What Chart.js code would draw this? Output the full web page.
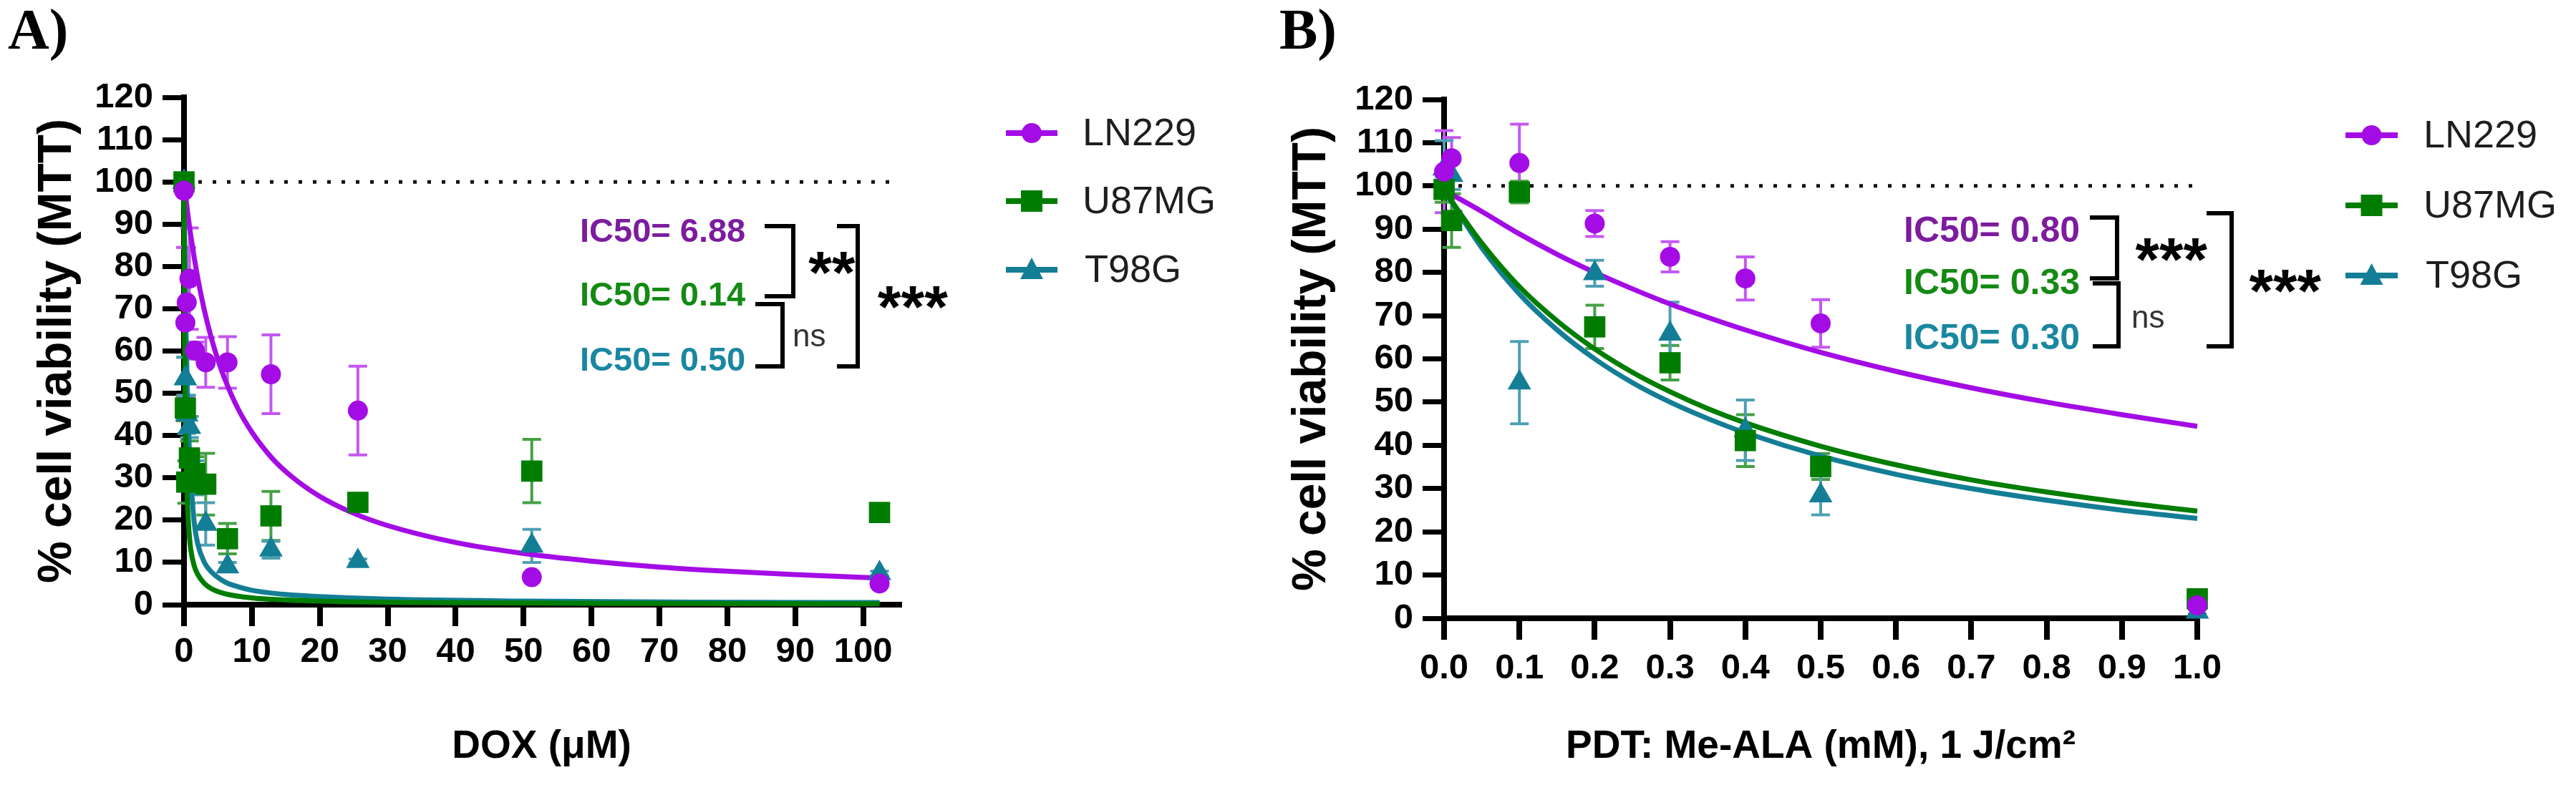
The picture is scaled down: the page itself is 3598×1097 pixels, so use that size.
<!DOCTYPE html>
<html><head><meta charset="utf-8">
<script src="https://cdn.jsdelivr.net/npm/chart.js@4.4.1/dist/chart.umd.min.js"></script>
<style>
html,body{margin:0;padding:0;background:#fff;}
body{width:3598px;height:1097px;position:relative;overflow:hidden;}
canvas{position:absolute;left:0;top:0;}
</style></head><body>
<canvas id="cA" width="3598" height="1097"></canvas>
<canvas id="cB" width="3598" height="1097"></canvas>
<script>
// ---------------- DATA ----------------
const seriesNames = ['LN229', 'U87MG', 'T98G'];
const controlLevel = 100;

// Panel A: DOX (µM)
const A_conc = [0, 0.2, 0.4, 0.8, 1.6, 3.2, 6.4, 12.8, 25.6, 51.2, 102.4];
const A_LN229 = [97.9, 66.7, 71.5, 77.1, 60.1, 57.3, 57.3, 54.5, 45.9, 6.5, 5.0];
const A_LN229_sd = [0, 17.8, 13, 12, 2, 5.9, 6.1, 9.3, 10.5, 0, 0];
const A_U87MG = [100, 46.5, 29.0, 34.7, 31.0, 28.5, 15.6, 21.0, 24.2, 31.6, 21.8];
const A_U87MG_sd = [0, 3, 5, 4, 4, 7.3, 3.6, 5.8, 1, 7.5, 2];
const A_T98G = [100, 53.5, 45.0, 42.0, 30.0, 19.1, 9.0, 13.0, 10.3, 13.9, 7.4];
const A_T98G_sd = [0, 5, 4.5, 2.5, 4, 5, 1, 2, 0.5, 3.9, 0.5];

const A_fit_LN229_x = [0, 0.2, 0.5, 1, 2, 3, 4, 5, 6, 8, 10, 13, 16, 20, 25, 30, 40, 50, 60, 70, 80, 90, 102.4];
const A_fit_LN229_y = [99, 97.2, 93.2, 87.3, 77.5, 69.6, 63.2, 57.9, 53.4, 46.2, 40.8, 34.6, 30.1, 25.6, 21.6, 18.7, 14.7, 12.1, 10.3, 8.9, 7.9, 7.1, 6.3];
const A_fit_U87MG_x = [0, 0.05, 0.1, 0.2, 0.3, 0.5, 0.75, 1, 1.5, 2, 3, 4, 6, 10, 20, 40, 70, 102.4];
const A_fit_U87MG_y = [100, 76, 60, 44, 35, 24, 17, 13, 9.2, 7.2, 5, 3.8, 2.6, 1.6, 0.85, 0.45, 0.28, 0.2];
const A_fit_T98G_x = [0, 0.05, 0.1, 0.2, 0.3, 0.5, 0.75, 1, 1.5, 2, 3, 4, 6, 8, 10, 15, 20, 30, 50, 75, 102.4];
const A_fit_T98G_y = [100, 92, 85, 74, 64, 50, 38, 30, 19.5, 14.5, 10, 7.8, 5.4, 4.2, 3.4, 2.4, 1.9, 1.3, 0.85, 0.6, 0.5];

const A_xTicks = {min: 0, max: 105.3, step: 10};
const A_ic50 = ['IC50= 6.88', 'IC50= 0.14', 'IC50= 0.50'];
const A_sig = ['**', 'ns', '***'];

// Panel B: PDT Me-ALA (mM), 1 J/cm2
const B_conc = [0, 0.01, 0.1, 0.2, 0.3, 0.4, 0.5, 1.0];
const B_LN229 = [103.3, 106.4, 105.3, 91.3, 83.6, 78.6, 68.2, 3.0];
const B_LN229_sd = [9.5, 4.8, 9, 3, 3.5, 5, 5.5, 0.5];
const B_U87MG = [99.2, 92.0, 98.6, 67.4, 59.1, 41.1, 35.1, 4.5];
const B_U87MG_sd = [3, 6.2, 2.5, 5, 4, 6, 3, 0.5];
const B_T98G = [104, 102.5, 54.5, 79.8, 65.8, 43.5, 28.4, 1.5];
const B_T98G_sd = [6.5, 3.3, 9.5, 3, 7.3, 7, 4.5, 0.5];

const B_fit_x = [0, 0.05, 0.1, 0.15, 0.2, 0.25, 0.3, 0.35, 0.4, 0.5, 0.6, 0.7, 0.8, 0.9, 1.0];
const B_fit_LN229_y = [99, 94.1, 88.9, 84.2, 80, 76.2, 72.7, 69.6, 66.7, 61.5, 57.1, 53.3, 50, 47.1, 44.4];
const B_fit_U87MG_y = [99, 86.8, 76.7, 68.8, 62.3, 56.9, 52.4, 48.5, 45.2, 39.8, 35.5, 32, 29.2, 26.8, 24.8];
const B_fit_T98G_y = [99, 85.7, 75, 66.7, 60, 54.5, 50, 46.2, 42.9, 37.5, 33.3, 30, 27.3, 25, 23.1];

const B_xTicks = {min: 0, max: 1.0, step: 0.1};
const B_ic50 = ['IC50= 0.80', 'IC50= 0.33', 'IC50= 0.30'];
const B_sig = ['***', 'ns', '***'];

const yTicks = {min: 0, max: 120, step: 10};

// ---------------- STYLE ----------------
const FONT = "'Liberation Sans', Arial, Helvetica, sans-serif";
const markerColors = ['#A40CE6', '#007D00', '#137E96'];
const errColors = ['#C457F2', '#45A045', '#4E9FB4'];
const textColors = ['#7C1C9E', '#148A14', '#1A87A1'];
const pStyles = ['circle', 'rect', 'triangle'];
const pRadius = [14, 21, 19];

function pts(xs, ys) { return xs.map((x, i) => ({x: x, y: ys[i]})); }

function buildDatasets(conc, vals, sds, fits, xmax) {
  const ds = [];
  vals.forEach((v, i) => {
    ds.push({
      type: 'scatter', label: seriesNames[i], data: pts(conc, v), errorBars: sds[i], errorColor: errColors[i],
      pointStyle: pStyles[i], pointRadius: pRadius[i], pointHoverRadius: pRadius[i],
      pointBackgroundColor: markerColors[i], pointBorderWidth: 0, showLine: false, order: i, clip: false
    });
  });
  const curveOrder = [6, 5, 7];
  fits.forEach((f, i) => {
    ds.push({
      type: 'scatter', label: seriesNames[i] + ' fit', data: pts(f[0], f[1]), showLine: true,
      borderColor: markerColors[i], borderWidth: 7, pointRadius: 0, cubicInterpolationMode: 'monotone',
      order: curveOrder[i], clip: false
    });
  });
  ds.push({
    type: 'scatter', label: 'control', data: [{x: 0, y: controlLevel}, {x: xmax, y: controlLevel}], showLine: true,
    borderColor: '#111', borderWidth: 5, borderDash: [5, 15], pointRadius: 0, order: 10, clip: false
  });
  return ds;
}

const errorBarPlugin = {
  id: 'errbars',
  beforeDatasetsDraw(chart) {
    const ctx = chart.ctx, xs = chart.scales.x, ys = chart.scales.y;
    chart.data.datasets.forEach(ds => {
      if (!ds.errorBars) return;
      ctx.save();
      ctx.strokeStyle = ds.errorColor; ctx.lineWidth = 4; ctx.lineCap = 'butt';
      ds.data.forEach((p, j) => {
        const sd = ds.errorBars[j]; if (!sd) return;
        const px = xs.getPixelForValue(p.x);
        const yt = ys.getPixelForValue(p.y + sd), yb = ys.getPixelForValue(p.y - sd);
        ctx.beginPath();
        ctx.moveTo(px, yt); ctx.lineTo(px, yb);
        ctx.moveTo(px - 13, yt); ctx.lineTo(px + 13, yt);
        ctx.moveTo(px - 13, yb); ctx.lineTo(px + 13, yb);
        ctx.stroke();
      });
      ctx.restore();
    });
  }
};

function textBox(ctx, txt, font, color, x, cy, align) {
  ctx.save();
  ctx.font = font; ctx.fillStyle = color; ctx.textAlign = 'left'; ctx.textBaseline = 'alphabetic';
  const m = ctx.measureText(txt);
  const w = m.actualBoundingBoxRight + m.actualBoundingBoxLeft;
  let left = x;
  if (align === 'center') left = x - w / 2;
  const base = cy + (m.actualBoundingBoxAscent - m.actualBoundingBoxDescent) / 2;
  ctx.fillText(txt, left + m.actualBoundingBoxLeft, base);
  ctx.restore();
}

function bracket(ctx, x1, yTop, x2, yBot) {
  ctx.save();
  ctx.strokeStyle = '#000'; ctx.lineWidth = 6; ctx.lineJoin = 'miter'; ctx.lineCap = 'butt';
  ctx.beginPath(); ctx.moveTo(x1, yTop); ctx.lineTo(x2, yTop); ctx.lineTo(x2, yBot); ctx.lineTo(x1, yBot); ctx.stroke();
  ctx.restore();
}

function legend(ctx, lx1, lx2, ys, tx) {
  const cx = (lx1 + lx2) / 2;
  seriesNames.forEach((name, i) => {
    const y = ys[i];
    ctx.save();
    ctx.strokeStyle = markerColors[i]; ctx.lineWidth = 8;
    ctx.beginPath(); ctx.moveTo(lx1, y); ctx.lineTo(lx2, y); ctx.stroke();
    ctx.fillStyle = markerColors[i];
    ctx.beginPath();
    if (i === 0) ctx.arc(cx, y, 14, 0, Math.PI * 2);
    else if (i === 1) ctx.rect(cx - 15, y - 15, 30, 30);
    else { ctx.moveTo(cx, y - 17); ctx.lineTo(cx + 16, y + 13); ctx.lineTo(cx - 16, y + 13); ctx.closePath(); }
    ctx.fill();
    ctx.restore();
    textBox(ctx, name, '54px ' + FONT, '#1e1e1e', tx, y - 2, 'left');
  });
}

function scalesCfg(xt, xTitle, yW, xH, xTickPad, fmt) {
  return {
    x: {
      type: 'linear', min: xt.min, max: xt.max,
      ticks: {stepSize: xt.step, includeBounds: false, color: '#000', padding: xTickPad,
              font: {family: FONT, weight: 'bold', size: 49}, callback: fmt, maxRotation: 0, autoSkip: false},
      grid: {drawOnChartArea: false, drawTicks: true, tickLength: 30, lineWidth: 8, tickWidth: 8, color: '#000', tickColor: '#000'},
      border: {display: true, width: 8, color: '#000'},
      title: {display: true, text: xTitle, color: '#000', font: {family: FONT, weight: 'bold', size: 55}, padding: 0},
      afterFit: s => { s.height = xH; }
    },
    y: {
      type: 'linear', min: yTicks.min, max: yTicks.max,
      ticks: {stepSize: yTicks.step, color: '#000', padding: 13, autoSkip: false, font: {family: FONT, weight: 'bold', size: 49}},
      grid: {drawOnChartArea: false, drawTicks: true, tickLength: 30, lineWidth: 7, tickWidth: 7, color: '#000', tickColor: '#000'},
      border: {display: true, width: 8, color: '#000'},
      title: {display: true, text: '% cell viability (MTT)', color: '#000', font: {family: FONT, weight: 'bold', size: 66}, padding: 0},
      afterFit: s => { s.width = yW; }
    }
  };
}

const commonOpts = {responsive: false, animation: false, devicePixelRatio: 1, events: []};

// ---------------- PANEL A ----------------
const annotA = {
  id: 'annotA',
  afterDraw(chart) {
    const ctx = chart.ctx;
    textBox(ctx, 'A)', 'bold 80px "Liberation Serif", "Times New Roman", serif', '#000', 11, 49, 'left');
    const ys = [322, 411, 502];
    A_ic50.forEach((t, i) => textBox(ctx, t, 'bold 47px ' + FONT, textColors[i], 813, ys[i], 'left'));
    bracket(ctx, 1068, 316, 1108, 414);
    bracket(ctx, 1055, 425, 1093, 512);
    bracket(ctx, 1169, 316, 1198, 512);
    textBox(ctx, A_sig[0], 'bold 84px ' + FONT, '#000', 1162, 368, 'center');
    textBox(ctx, A_sig[1], '44px ' + FONT, '#333', 1109, 472, 'left');
    textBox(ctx, A_sig[2], 'bold 84px ' + FONT, '#000', 1275, 416, 'center');
    legend(ctx, 1405, 1477, [186, 281, 377], 1516);
  }
};

new Chart(document.getElementById('cA'), {
  type: 'scatter',
  data: {datasets: buildDatasets(A_conc, [A_LN229, A_U87MG, A_T98G], [A_LN229_sd, A_U87MG_sd, A_T98G_sd],
    [[A_fit_LN229_x, A_fit_LN229_y], [A_fit_U87MG_x, A_fit_U87MG_y], [A_fit_T98G_x, A_fit_T98G_y]], A_xTicks.max)},
  options: Object.assign({}, commonOpts, {
    layout: {padding: {left: 41, top: 136, right: 3598 - 1256, bottom: 20}},
    plugins: {legend: {display: false}, tooltip: {enabled: false}},
    scales: scalesCfg(A_xTicks, 'DOX (\u03BCM)', 216, 232, 7, v => String(v))
  }),
  plugins: [errorBarPlugin, annotA]
});

// ---------------- PANEL B ----------------
const annotB = {
  id: 'annotB',
  afterDraw(chart) {
    const ctx = chart.ctx;
    textBox(ctx, 'B)', 'bold 80px "Liberation Serif", "Times New Roman", serif', '#000', 1788, 49, 'left');
    const ys = [320, 393, 470];
    B_ic50.forEach((t, i) => textBox(ctx, t, 'bold 50px ' + FONT, textColors[i], 2662, ys[i], 'left'));
    bracket(ctx, 2919, 304, 2957, 389);
    bracket(ctx, 2923, 396, 2959, 484);
    bracket(ctx, 3082, 298, 3117, 484);
    textBox(ctx, B_sig[0], 'bold 86px ' + FONT, '#000', 3033, 349, 'center');
    textBox(ctx, B_sig[1], '44px ' + FONT, '#333', 2979, 446, 'left');
    textBox(ctx, B_sig[2], 'bold 86px ' + FONT, '#000', 3192, 393, 'center');
    legend(ctx, 3276, 3349, [189, 287, 385], 3389);
  }
};

new Chart(document.getElementById('cB'), {
  type: 'scatter',
  data: {datasets: buildDatasets(B_conc, [B_LN229, B_U87MG, B_T98G], [B_LN229_sd, B_U87MG_sd, B_T98G_sd],
    [[B_fit_x, B_fit_LN229_y], [B_fit_x, B_fit_U87MG_y], [B_fit_x, B_fit_T98G_y]], B_xTicks.max)},
  options: Object.assign({}, commonOpts, {
    layout: {padding: {left: 1793, top: 139, right: 3598 - 3069, bottom: 20}},
    plugins: {legend: {display: false}, tooltip: {enabled: false}},
    scales: scalesCfg(B_xTicks, 'PDT: Me-ALA (mM), 1 J/cm\u00B2', 224, 213, 11, v => Number(v).toFixed(1))
  }),
  plugins: [errorBarPlugin, annotB]
});
</script></body></html>
